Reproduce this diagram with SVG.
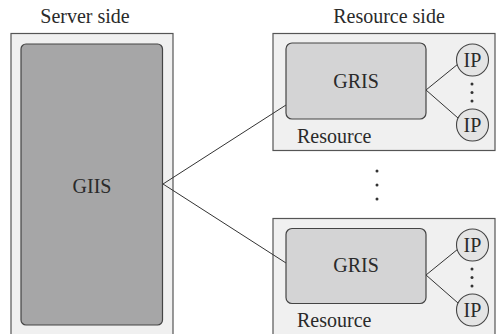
<svg xmlns="http://www.w3.org/2000/svg" width="496" height="334" viewBox="0 0 496 334" font-family="Liberation Serif, DejaVu Serif, serif">
<style>
text{font-size:20px;fill:#2a2a2a}
.c{text-anchor:middle}
.panel{fill:#f0f0f0;stroke:#555;stroke-width:1.2}
.giis{fill:#a6a6a7;stroke:#444;stroke-width:1.2}
.gris{fill:#d4d4d5;stroke:#444;stroke-width:1.2}
.ip{fill:#e4e4e4;stroke:#444;stroke-width:1.1}
.ln{stroke:#333;stroke-width:1;fill:none}
.dot{fill:#333}
</style>
<rect width="496" height="334" fill="#fff"/>
<text class="c" x="85" y="23" font-family="Liberation Serif">Server side</text>
<text class="c" x="389" y="23" font-family="Liberation Serif">Resource side</text>

<g id="server">
<rect class="panel" x="11" y="33.5" width="162" height="310"/>
</g>
<g id="resource1">
<rect class="panel" x="273" y="33.5" width="222" height="117"/>
<text x="297" y="143" font-size="19.5" font-family="Liberation Serif">Resource</text>
</g>
<g id="resource2">
<rect class="panel" x="273" y="218.5" width="222" height="130"/>
<text x="297" y="327" font-size="19.5" font-family="Liberation Serif">Resource</text>
</g>

<g id="connectors">
<path class="ln" d="M163 184 L286 105 M163 184 L286 263"/>
<path class="ln" d="M426 90 L458 64 M426 90 L458 118"/>
<path class="ln" d="M426 275 L458 249 M426 275 L458 303"/>
</g>

<g id="giis">
<rect class="giis" x="21" y="44" width="141.5" height="281" rx="5"/>
<text class="c" x="92" y="193" font-family="Liberation Serif">GIIS</text>
</g>
<g id="gris1">
<rect class="gris" x="286" y="43" width="140" height="76" rx="6"/>
<text class="c" x="356" y="88" font-family="Liberation Serif">GRIS</text>
</g>
<g id="gris2">
<rect class="gris" x="286" y="228.5" width="140" height="75" rx="6"/>
<text class="c" x="356" y="272" font-family="Liberation Serif">GRIS</text>
</g>
<g id="ip1a">
<circle class="ip" cx="472.5" cy="60" r="16"/>
<text class="c" x="472.5" y="67" font-family="Liberation Serif">IP</text>
</g>
<g id="ip1b">
<circle class="ip" cx="472.5" cy="125" r="16"/>
<text class="c" x="472.5" y="132" font-family="Liberation Serif">IP</text>
</g>
<g id="ip2a">
<circle class="ip" cx="472.5" cy="245" r="16"/>
<text class="c" x="472.5" y="252" font-family="Liberation Serif">IP</text>
</g>
<g id="ip2b">
<circle class="ip" cx="472.5" cy="310" r="16"/>
<text class="c" x="472.5" y="317" font-family="Liberation Serif">IP</text>
</g>
<g id="dots">
<circle class="dot" cx="472" cy="84" r="1.5"/>
<circle class="dot" cx="472" cy="92.5" r="1.5"/>
<circle class="dot" cx="472" cy="101" r="1.5"/>
<circle class="dot" cx="472" cy="269" r="1.5"/>
<circle class="dot" cx="472" cy="277.5" r="1.5"/>
<circle class="dot" cx="472" cy="286" r="1.5"/>
<circle class="dot" cx="377" cy="171" r="1.5"/>
<circle class="dot" cx="377" cy="185" r="1.5"/>
<circle class="dot" cx="377" cy="199" r="1.5"/>
</g>
</svg>
